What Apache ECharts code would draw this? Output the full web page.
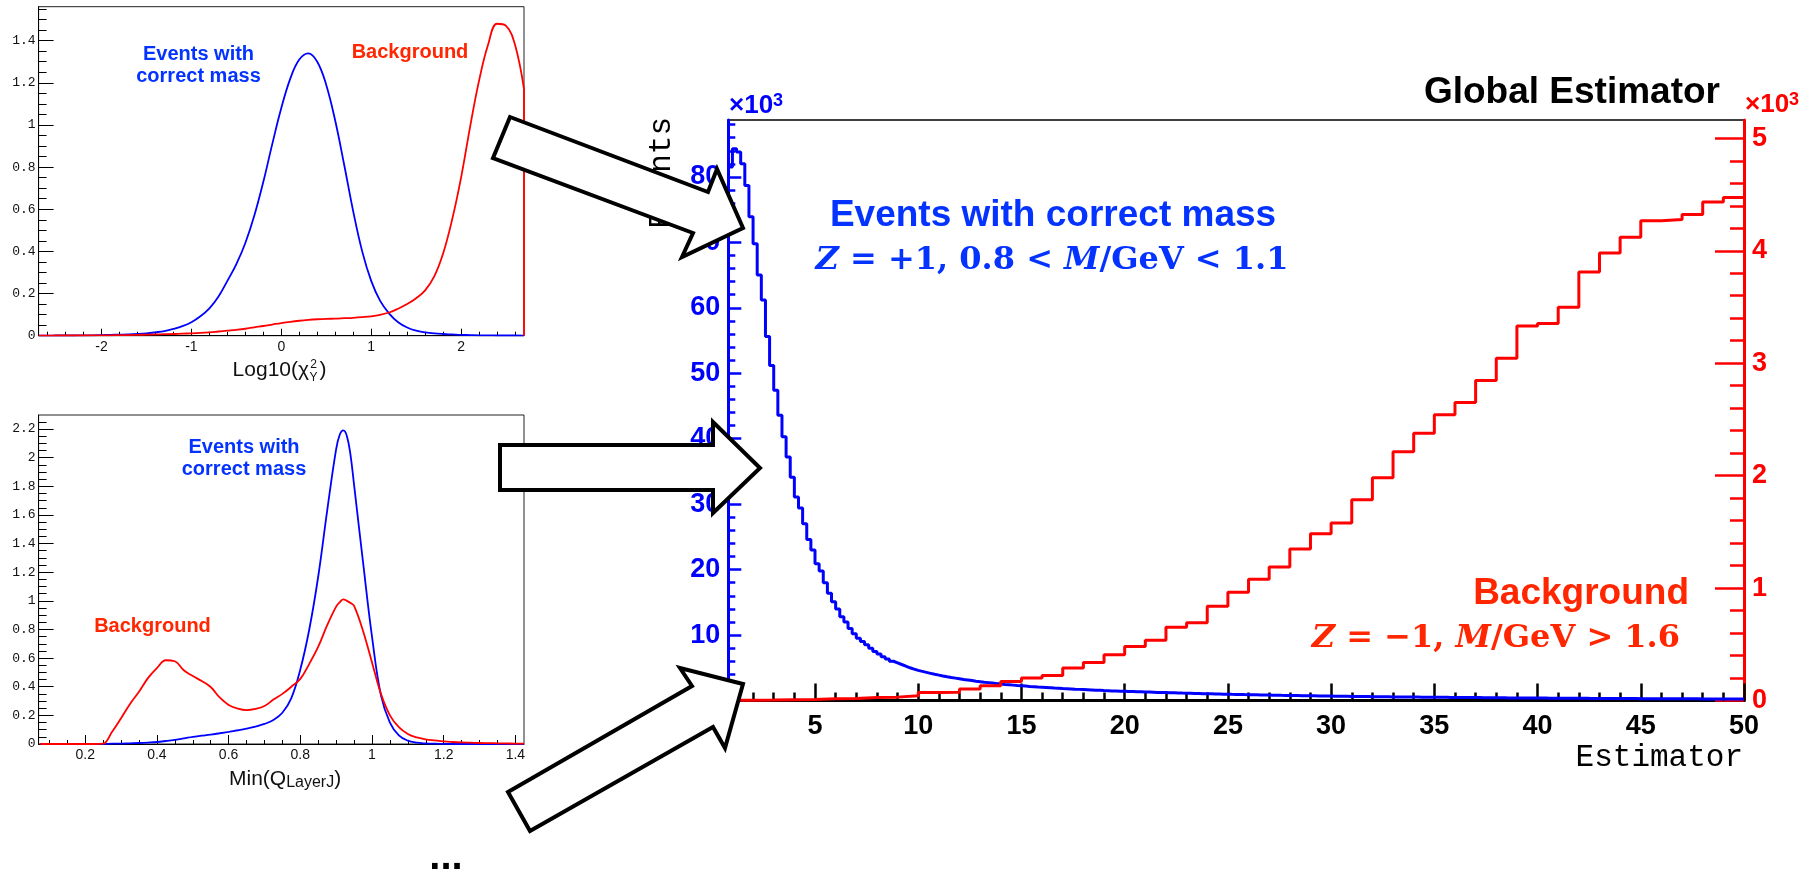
<!DOCTYPE html>
<html><head><meta charset="utf-8">
<script src="https://cdn.jsdelivr.net/npm/echarts@6/dist/echarts.min.js"></script>
<style>html,body{margin:0;padding:0;background:#fff}#c{width:1818px;height:871px}</style>
</head><body><div id="c"></div>
<script>
// ================= DATA =================
// Top-left panel: Log10(chi2_Y) distributions
const tlX = [-2.7,-2.6,-2.5,-2.4,-2.3,-2.2,-2.1,-2.0,-1.9,-1.8,-1.7,-1.6,-1.5,-1.4,-1.3,-1.2,-1.1,-1.0,-0.9,-0.8,-0.7,-0.6,-0.5,-0.4,-0.3,-0.2,-0.1,
  0.0,0.1,0.2,0.3,0.4,0.5,0.6,0.7,0.8,0.9,1.0,1.1,1.2,1.3,1.4,1.5,1.6,1.7,1.8,1.9,2.0,2.1,2.2,2.3,2.4,2.5,2.6,2.7];
const tlBlue = [0,0,0.001,0.001,0.001,0.002,0.002,0.003,0.004,0.005,0.006,0.008,0.011,0.016,0.022,0.032,0.045,0.064,0.092,0.13,0.185,0.26,0.34,0.44,0.57,0.73,0.91,
  1.08,1.22,1.31,1.34,1.30,1.19,1.02,0.81,0.59,0.40,0.26,0.165,0.105,0.064,0.039,0.024,0.016,0.011,0.008,0.006,0.004,0.003,0.002,0.002,0.001,0.001,0.001,0];
const tlRed = [0,0,0.001,0.001,0.001,0.001,0.002,0.002,0.002,0.003,0.003,0.004,0.005,0.006,0.007,0.008,0.010,0.011,0.013,0.016,0.020,0.024,0.028,0.033,0.040,0.046,0.053,
  0.060,0.066,0.071,0.075,0.078,0.080,0.081,0.083,0.085,0.088,0.092,0.099,0.110,0.128,0.150,0.178,0.215,0.28,0.39,0.55,0.75,0.99,1.21,1.38,1.48,1.47,1.38,1.17];

// Bottom-left panel: Min(Q_LayerJ) distributions
const blX = [0.075,0.1,0.125,0.15,0.175,0.2,0.225,0.25,0.275,0.3,0.325,0.35,0.375,0.4,0.425,0.45,0.475,0.5,0.525,0.55,0.575,0.6,0.625,0.65,0.675,0.7,0.725,0.75,0.775,0.8,0.825,0.85,0.875,0.9,0.91,0.92,0.93,0.94,0.95,0.975,1.0,1.025,1.05,1.075,1.1,1.125,1.15,1.175,1.2,1.225,1.25,1.275,1.3,1.325,1.35,1.375,1.4,1.424];
const blBlue = [0,0,0,0,0,0,0,0.001,0.002,0.003,0.005,0.007,0.010,0.014,0.021,0.029,0.039,0.050,0.058,0.066,0.075,0.085,0.096,0.108,0.122,0.140,0.168,0.218,0.32,0.52,0.80,1.17,1.63,2.06,2.16,2.19,2.15,2.02,1.81,1.27,0.75,0.34,0.15,0.06,0.023,0.009,0.004,0.002,0.001,0,0,0,0,0,0,0,0,0];
const blRed = [0,0,0,0,0,0,0,0.002,0.085,0.18,0.28,0.365,0.46,0.53,0.585,0.578,0.515,0.475,0.44,0.398,0.325,0.273,0.248,0.237,0.245,0.265,0.31,0.35,0.40,0.455,0.56,0.68,0.83,0.96,0.99,1.01,1.0,0.985,0.965,0.79,0.57,0.35,0.20,0.118,0.07,0.046,0.033,0.025,0.018,0.014,0.011,0.009,0.007,0.006,0.005,0.004,0.003,0.003];

// Main panel: Global Estimator histograms (values in units of 10^3)
const blueBinStart = 0.8, blueBinWidth = 0.2;
const mainBlue = [
  81.5,84.3,83.8,82.0,78.7,73.9,69.8,65.0,61.2,55.6,
  51.2,47.4,43.6,40.3,37.2,34.1,31.1,29.4,27.0,24.6,
  23.0,20.9,19.8,18.0,16.4,15.1,14.0,12.8,12.0,11.0,
  10.2,9.5,9.0,8.5,8.0,7.5,
  7.1,6.7,6.35,6.0,5.75,5.5,5.25,5.0,4.8,4.6,
  4.45,4.3,4.15,4.0,3.88,3.75,3.63,3.52,3.42,3.31,
  3.2,3.12,3.04,2.95,2.88,2.8,2.73,2.66,2.58,2.52,
  2.45,2.4,2.35,2.29,2.25,2.2,2.15,2.11,2.06,2.02,
  1.98,1.94,1.9,1.87,1.83,1.8,1.77,1.73,1.7,1.67,
  1.64,1.61,1.58,1.55,1.52,1.5,1.47,1.45,1.42,1.4,
  1.38,1.36,1.34,1.32,1.30,
  1.28,1.26,1.24,1.22,1.21, 1.19,1.17,1.15,1.13,1.12, 1.10,1.08,1.07,1.05,1.03, 1.02,1.00,0.99,0.97,0.96,
  0.94,0.93,0.92,0.90,0.89, 0.88,0.87,0.85,0.84,0.83, 0.82,0.81,0.79,0.78,0.77, 0.76,0.75,0.74,0.73,0.72,
  0.71,0.70,0.69,0.68,0.67, 0.66,0.65,0.64,0.64,0.63, 0.62,0.61,0.60,0.60,0.59, 0.58,0.57,0.57,0.56,0.55,
  0.55,0.54,0.54,0.53,0.52, 0.52,0.51,0.51,0.50,0.49, 0.49,0.48,0.48,0.47,0.47, 0.46,0.46,0.45,0.45,0.44,
  0.44,0.43,0.43,0.42,0.42, 0.41,0.41,0.40,0.40,0.39, 0.39,0.39,0.38,0.38,0.37, 0.37,0.37,0.36,0.36,0.35,
  0.35,0.35,0.34,0.34,0.33, 0.33,0.33,0.32,0.32,0.31, 0.31,0.31,0.31,0.30,0.30, 0.30,0.29,0.29,0.29,0.28,
  0.28,0.28,0.28,0.27,0.27, 0.27,0.26,0.26,0.26,0.26, 0.25,0.25,0.25,0.25,0.24, 0.24,0.24,0.24,0.23,0.23,
  0.23,0.23,0.22,0.22,0.22
];
const redBinStart = 0, redBinWidth = 1;
const mainRed = [
  0.002,0.003,0.004,0.006,0.008,0.015,0.017,0.027,0.030,0.043,
  0.071,0.074,0.102,0.131,0.170,0.200,0.222,0.289,0.339,0.407,
  0.481,0.535,0.652,0.692,0.838,0.962,1.078,1.187,1.348,1.483,
  1.578,1.785,1.982,2.213,2.377,2.541,2.650,2.847,3.045,3.331,
  3.354,3.497,3.812,3.980,4.120,4.268,4.279,4.322,4.433,4.473
];

// Tick values / labels
const tlXLabels = [-2,-1,0,1,2];
const tlYLabels = [0,0.2,0.4,0.6,0.8,1,1.2,1.4];
const blXLabels = [0.2,0.4,0.6,0.8,1,1.2,1.4];
const blYLabels = [0,0.2,0.4,0.6,0.8,1,1.2,1.4,1.6,1.8,2,2.2];
const mainXLabels = [5,10,15,20,25,30,35,40,45,50];
const mainYLeftLabels = [10,20,30,40,50,60,70,80];
const mainYLeftTicks = [0,10,20,30,40,50,60,70,80];
const mainYRightLabels = [0,1,2,3,4,5];

// ================= HELPERS =================
function range(a, b, step) { const o = []; for (let i = 0; ; i++) { const v = +(a + i * step).toFixed(4); if (v > b + 1e-9) break; o.push(v); } return o; }
function zip(xs, ys) { return xs.map((x, i) => [x, ys[i]]); }
function histSteps(start, width, vals) {
  const d = vals.map((v, i) => [+(start + i * width).toFixed(4), v]);
  d.push([+(start + vals.length * width).toFixed(4), vals[vals.length - 1]]);
  return d;
}
const BLUE = '#0000ff', RED = '#ff0000', TBLUE = '#0433ff', TRED = '#ff2600';
const SANS = '"Liberation Sans", Arial, Helvetica, sans-serif';
const MONO = '"Liberation Mono", "DejaVu Sans Mono", monospace';
const SERIF = '"DejaVu Serif", serif';

function axis(o) {
  return {
    type: 'value', gridIndex: o.grid, min: o.min, max: o.max, position: o.pos,
    offset: 0, silent: true,
    axisLine: { show: !!o.line, onZero: false, lineStyle: { color: o.color || '#000', width: o.lw || 1 } },
    axisTick: { show: true, inside: true, length: o.tickLen, customValues: o.ticks, lineStyle: { color: o.color || '#000', width: o.tw || 1 } },
    axisLabel: o.labels ? Object.assign({ show: true, customValues: o.labels, hideOverlap: false, showMinLabel: true, showMaxLabel: true }, o.labelStyle) : { show: false },
    splitLine: { show: false }, minorTick: { show: false }, minorSplitLine: { show: false }
  };
}

// grids
const G0 = { left: 38.6, top: 6.7, width: 485.4, height: 329 };
const G1 = { left: 38.6, top: 415, width: 485.4, height: 329 };
const G2 = { left: 728.3, top: 120, width: 1015.7, height: 580.5 };

const smallXLabel = { color: '#111', fontSize: 14, fontFamily: SANS, margin: 4 };
const smallYLabel = { color: '#111', fontSize: 13, fontFamily: MONO, margin: 3 };
const bigLabel = { fontSize: 27, fontWeight: 'bold', fontFamily: SANS };

const xAxes = [
  axis({ grid: 0, min: -2.7, max: 2.7, pos: 'bottom', line: true, tickLen: 7, ticks: tlXLabels, labels: tlXLabels, labelStyle: smallXLabel }),
  axis({ grid: 0, min: -2.7, max: 2.7, pos: 'bottom', tickLen: 4, ticks: range(-2.6, 2.6, 0.2) }),
  axis({ grid: 1, min: 0.07, max: 1.424, pos: 'bottom', line: true, tickLen: 9, ticks: blXLabels, labels: blXLabels, labelStyle: smallXLabel }),
  axis({ grid: 1, min: 0.07, max: 1.424, pos: 'bottom', tickLen: 4, ticks: range(0.1, 1.4, 0.05) }),
  axis({ grid: 2, min: 0.8, max: 50, pos: 'bottom', line: true, lw: 3, tw: 2.5, tickLen: 17, ticks: mainXLabels, labels: mainXLabels,
         labelStyle: Object.assign({ color: '#000', margin: 13 }, bigLabel) }),
  axis({ grid: 2, min: 0.8, max: 50, pos: 'bottom', tw: 2.5, tickLen: 8, ticks: range(1, 50, 1) })
];
const yAxes = [
  axis({ grid: 0, min: 0, max: 1.561, pos: 'left', line: true, tickLen: 15, ticks: tlYLabels, labels: tlYLabels, labelStyle: smallYLabel }),
  axis({ grid: 0, min: 0, max: 1.561, pos: 'left', tickLen: 8, ticks: range(0.05, 1.55, 0.05) }),
  axis({ grid: 1, min: 0, max: 2.298, pos: 'left', line: true, tickLen: 15, ticks: blYLabels, labels: blYLabels, labelStyle: smallYLabel }),
  axis({ grid: 1, min: 0, max: 2.298, pos: 'left', tickLen: 8, ticks: range(0.05, 2.25, 0.05) }),
  axis({ grid: 2, min: 0, max: 88.7, pos: 'left', line: true, color: BLUE, lw: 3, tw: 2.5, tickLen: 13, ticks: mainYLeftTicks, labels: mainYLeftLabels,
         labelStyle: Object.assign({ color: BLUE, margin: 8 }, bigLabel) }),
  axis({ grid: 2, min: 0, max: 88.7, pos: 'left', color: BLUE, tw: 2.5, tickLen: 7, ticks: range(2, 88, 2) }),
  axis({ grid: 2, min: 0, max: 5.163, pos: 'right', line: true, color: RED, lw: 3, tw: 2.5, tickLen: 29, ticks: mainYRightLabels, labels: mainYRightLabels,
         labelStyle: Object.assign({ color: RED, margin: 8 }, bigLabel) }),
  axis({ grid: 2, min: 0, max: 5.163, pos: 'right', color: RED, tw: 2.5, tickLen: 14, ticks: range(0.2, 5.0, 0.2) })
];

function curve(xi, yi, data, color, w, extra) {
  return Object.assign({ type: 'line', xAxisIndex: xi, yAxisIndex: yi, data: data, symbol: 'none', showSymbol: false, silent: true,
    clip: true, lineStyle: { color: color, width: w }, emphasis: { disabled: true } }, extra || {});
}
const series = [
  curve(0, 0, zip(tlX, tlBlue), BLUE, 1.8, { smooth: 0.4 }),
  curve(0, 0, zip(tlX, tlRed), RED, 1.8, { smooth: 0.4 }),
  curve(0, 0, [[tlX[tlX.length - 1], tlRed[tlRed.length - 1]], [tlX[tlX.length - 1], 0]], RED, 1.8),
  curve(2, 2, zip(blX, blBlue), BLUE, 1.8, { smooth: 0.4 }),
  curve(2, 2, zip(blX, blRed), RED, 1.8, { smooth: 0.4 }),
  curve(4, 4, histSteps(blueBinStart, blueBinWidth, mainBlue), BLUE, 3, { step: 'end' }),
  curve(4, 6, histSteps(redBinStart, redBinWidth, mainRed), RED, 3, { step: 'end' })
];

// ================= ANNOTATIONS =================
function txt(x, y, text, font, fill, align, valign, extra, rich) {
  const st = { text: text, font: font, fill: fill, align: align || 'left', verticalAlign: valign || 'middle', legacy: false };
  if (rich) st.rich = rich;
  return Object.assign({ type: 'text', x: x, y: y, z: 50, silent: true, style: st }, extra || {});
}
const MATHFONT = 'bold 32px ' + SERIF;
function mathTxt(x, y, text, color, align) {
  return txt(x, y, text, MATHFONT, color, align, 'middle', null, { i: { font: 'italic bold 32px ' + SERIF, fill: color } });
}
function arrow(points) {
  return { type: 'polygon', z: 100, silent: true, shape: { points: points },
    style: { fill: '#fff', stroke: '#000', lineWidth: 4, lineJoin: 'miter' } };
}
const B20 = 'bold 20px ' + SANS;
const B37 = 'bold 37px ' + SANS;
const graphics = [
  // top-left panel text
  txt(198.5, 54, 'Events with', B20, TBLUE, 'center'),
  txt(198.5, 76, 'correct mass', B20, TBLUE, 'center'),
  txt(410, 52, 'Background', B20, TRED, 'center'),
  txt(309, 370, 'Log10(\u03C7', '21px ' + SANS, '#111', 'right'),
  txt(313.5, 365, '2', '12px ' + SANS, '#111', 'center'),
  txt(313.5, 378, 'Y', '12px ' + SANS, '#111', 'center'),
  txt(319.5, 370, ')', '21px ' + SANS, '#111', 'left'),
  // bottom-left panel text
  txt(244, 447, 'Events with', B20, TBLUE, 'center'),
  txt(244, 469, 'correct mass', B20, TBLUE, 'center'),
  txt(152.5, 626, 'Background', B20, TRED, 'center'),
  txt(229, 779, 'Min(Q{s|LayerJ})', '21px ' + SANS, '#111', 'left', 'middle', null,
      { s: { font: '16px ' + SANS, fill: '#111', verticalAlign: 'bottom', padding: [8, 0, 0, 0] } }),
  txt(446, 878, '...', 'bold 40px ' + SANS, '#000', 'center', 'bottom'),
  // main panel text
  txt(1720, 93, 'Global Estimator', B37, '#000', 'right'),
  txt(729, 106, '\u00D710{s|3}', 'bold 26px ' + SANS, BLUE, 'left', 'middle', null,
      { s: { font: 'bold 18px ' + SANS, fill: BLUE, verticalAlign: 'top', padding: [0, 0, 10, 0] } }),
  txt(1745, 105, '\u00D710{s|3}', 'bold 26px ' + SANS, RED, 'left', 'middle', null,
      { s: { font: 'bold 18px ' + SANS, fill: RED, verticalAlign: 'top', padding: [0, 0, 10, 0] } }),
  txt(662, 117, 'Events', '31px ' + MONO, '#000', 'right', 'middle', { rotation: Math.PI / 2 }),
  txt(1743, 758, 'Estimator', '31px ' + MONO, '#000', 'right'),
  txt(1053, 216, 'Events with correct mass', B37, TBLUE, 'center'),
  mathTxt(1052, 261, '{i|Z} = +1, 0.8 < {i|M}/GeV < 1.1', TBLUE, 'center'),
  txt(1689, 594, 'Background', B37, TRED, 'right'),
  mathTxt(1680, 639, '{i|Z} = \u22121, {i|M}/GeV > 1.6', TRED, 'right'),
  // arrows
  arrow([[510, 117], [708, 192], [717, 169], [743, 228], [682, 257], [693, 233], [493, 158]]),
  arrow([[500, 445], [713, 445], [713, 422], [760, 468], [713, 513], [713, 490], [500, 490]]),
  arrow([[508, 792], [692, 686], [680, 668], [743, 684], [725, 748], [713, 727], [530, 831]])
];

const chart = echarts.init(document.getElementById('c'), null, { renderer: 'canvas' });
chart.setOption({
  animation: false,
  backgroundColor: '#fff',
  grid: [
    Object.assign({ show: true, borderColor: '#222', borderWidth: 1, backgroundColor: 'transparent', containLabel: false }, G0),
    Object.assign({ show: true, borderColor: '#222', borderWidth: 1, backgroundColor: 'transparent', containLabel: false }, G1),
    Object.assign({ show: true, borderColor: '#000', borderWidth: 1.5, backgroundColor: 'transparent', containLabel: false }, G2)
  ],
  xAxis: xAxes,
  yAxis: yAxes,
  series: series,
  graphic: { elements: graphics }
});
</script>
</body></html>
